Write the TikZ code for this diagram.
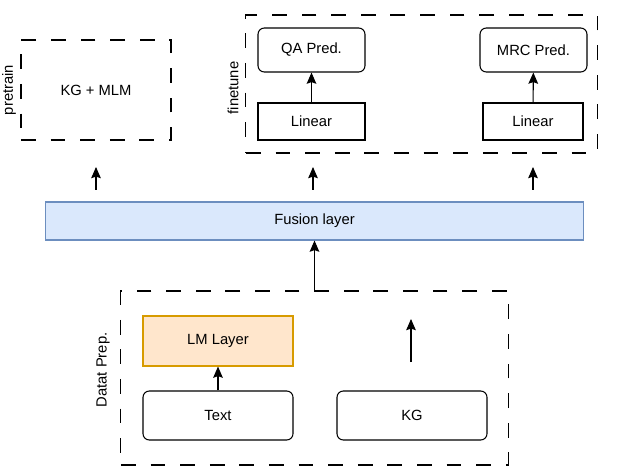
\documentclass[tikz,border=0pt]{standalone}
\usepackage{fontspec}
\setmainfont{Liberation Sans}
\usepackage{xcolor}
\usetikzlibrary{arrows.meta}
\definecolor{fusionfill}{HTML}{DAE8FC}
\definecolor{fusionline}{HTML}{6C8EBF}
\definecolor{lmfill}{HTML}{FFE6CC}
\definecolor{lmline}{HTML}{D79B00}

\begin{document}
\begin{tikzpicture}[x=0.025cm, y=-0.025cm]
		\tikzset{every node/.style={font=\fontsize{10.5}{12}\selectfont},
			dashbox/.style={draw, dash pattern=on 0.37cm off 0.37cm, line width=0.75pt},
			plainbox/.style={draw, line width=0.75pt},
			roundbox/.style={draw, rounded corners=0.16cm, line width=0.75pt},
			sidelabel/.style={rotate=90},
			uparrow/.style={-{Stealth[length=0.28cm,width=0.24cm,inset=0.04cm]}, line width=0.75pt}};
		\useasboundingbox (0,0) rectangle (627,473);
		
		\node[dashbox, minimum width=3.75cm, minimum height=2.5cm] (pretrain) at (96,90) {KG + MLM};
		\node[sidelabel] (pretrainlbl) at (9,90) {pretrain};
		
		\node[dashbox, minimum width=8.775cm, minimum height=3.45cm] (finetune) at (421.5,84) {};
		\node[sidelabel] (finetunelbl) at (233,88) {finetune};
		\node[roundbox, minimum width=2.675cm, minimum height=1.1cm] (qapred) at (311.5,50) {QA Pred.};
		\node[plainbox, minimum width=2.675cm, minimum height=0.925cm] (linearqa) at (311.5,121.5) {Linear};
		\node[roundbox, minimum width=2.675cm, minimum height=1.1cm] (mrcpred) at (533.5,50) {MRC Pred.};
		\node[plainbox, minimum width=2.5cm, minimum height=0.925cm] (linearmrc) at (533,121.5) {Linear};
		
		\node[draw=fusionline, fill=fusionfill, line width=0.75pt, minimum width=13.425cm, minimum height=0.95cm] (fusion) at (314.5,221) {Fusion layer};
		
		\node[dashbox, minimum width=9.675cm, minimum height=4.35cm] (dataprep) at (314.5,378) {};
		\node[sidelabel] (dataprelbl) at (103,370) {Datat Prep.};
		\node[draw=lmline, fill=lmfill, line width=0.75pt, minimum width=3.75cm, minimum height=1.25cm] (lmlayer) at (218,341) {LM Layer};
		\node[roundbox, minimum width=3.75cm, minimum height=1.225cm] (text) at (218,415.5) {Text};
		\node[roundbox, minimum width=3.75cm, minimum height=1.225cm] (kg) at (412,415.5) {KG};
		
		\coordinate (pretrainfoot) at (96,190);
		\coordinate (pretraintip) at (96,167);
		\coordinate (qafoot) at (313,190);
		\coordinate (qatip) at (313,167);
		\coordinate (mrcfoot) at (533,190);
		\coordinate (mrctip) at (533,167);
		\coordinate (kgfoot) at (411,362);
		\coordinate (kgtip) at (411,319);
		
		\draw[uparrow] (linearqa) -- (qapred);
		\draw[uparrow] (linearmrc) -- (mrcpred);
		\draw[uparrow] (text) -- (lmlayer);
		\draw[uparrow] (dataprep.north) -- (fusion.south);
		\draw[uparrow] (pretrainfoot) -- (pretraintip);
		\draw[uparrow] (qafoot) -- (qatip);
		\draw[uparrow] (mrcfoot) -- (mrctip);
		\draw[uparrow] (kgfoot) -- (kgtip);
		
	\end{tikzpicture}
\end{document}
